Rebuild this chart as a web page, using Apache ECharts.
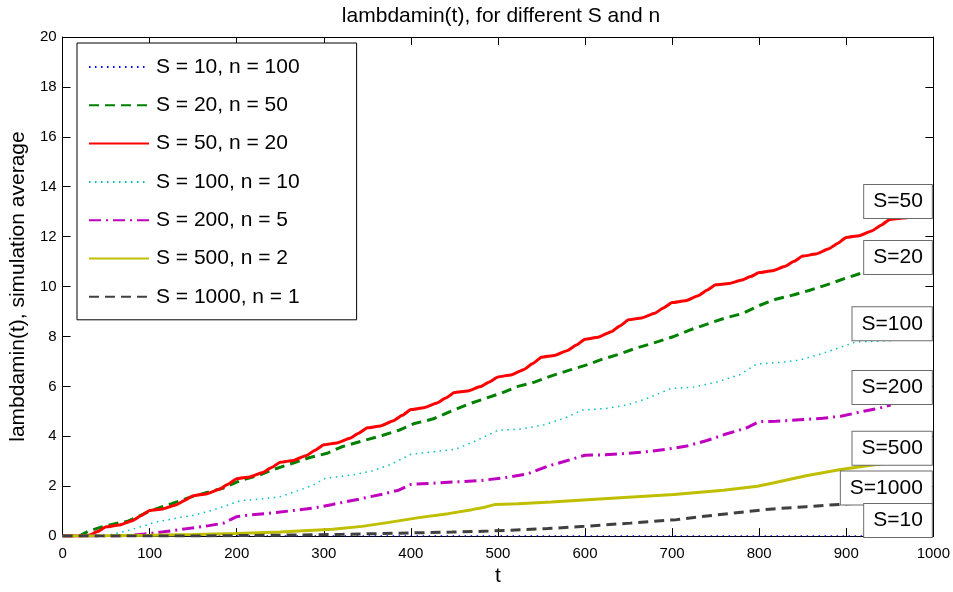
<!DOCTYPE html>
<html>
<head>
<meta charset="utf-8">
<script src="https://cdn.jsdelivr.net/npm/echarts@6/dist/echarts.min.js"></script>
<style>
html,body{margin:0;padding:0;background:#fff;}
#chart{width:953px;height:592px;}
</style>
</head>
<body>
<div id="chart"></div>
<script>
const xTicks = [0, 100, 200, 300, 400, 500, 600, 700, 800, 900, 1000];
const yTicks = [0, 2, 4, 6, 8, 10, 12, 14, 16, 18, 20];

const seriesNames = ['S = 10, n = 100', 'S = 20, n = 50', 'S = 50, n = 20', 'S = 100, n = 10', 'S = 200, n = 5', 'S = 500, n = 2', 'S = 1000, n = 1'];

const s10 = [[0,0],[200,0],[400,0],[600,0],[800,0],[960,0]];

const s20 = [[0,0],[20,0.02],[30,0.2],[50,0.42],[75,0.6],[100,1.0],[126,1.31],[145,1.54],[166,1.75],[185,1.93],[204,2.23],[225,2.43],[244,2.69],[265,2.93],[284,3.15],[304,3.32],[320,3.57],[344,3.81],[367,4.03],[386,4.24],[403,4.5],[426,4.7],[445,4.99],[466,5.29],[485,5.51],[504,5.73],[523,6.0],[542,6.17],[559,6.39],[582,6.65],[601,6.85],[620,7.09],[641,7.31],[660,7.55],[679,7.74],[702,8.0],[723,8.29],[743,8.53],[762,8.75],[781,8.92],[800,9.24],[819,9.49],[840,9.67],[859,9.86],[880,10.1],[899,10.33],[920,10.57],[955,10.95]];

const s50 = [[0,0],[25,0],[30,0.03],[40,0.18],[50,0.37],
[65,0.44],[80,0.62],[90,0.82],[100,1.03],
[115,1.09],[130,1.25],[140,1.43],[150,1.62],
[165,1.69],[180,1.88],[190,2.08],[200,2.30],
[215,2.37],[230,2.55],[240,2.75],[250,2.96],
[265,3.03],[280,3.23],[290,3.44],[300,3.66],
[315,3.73],[330,3.92],[340,4.12],[350,4.34],
[365,4.41],[380,4.62],[390,4.84],[400,5.07],
[415,5.14],[430,5.33],[440,5.53],[450,5.75],
[465,5.81],[480,5.99],[490,6.18],[500,6.38],
[515,6.46],[530,6.68],[540,6.92],[550,7.17],
[565,7.24],[580,7.44],[590,7.66],[600,7.89],
[615,7.97],[630,8.19],[640,8.42],[650,8.67],
[665,8.74],[680,8.93],[690,9.14],[700,9.36],
[715,9.43],[730,9.63],[740,9.85],[750,10.07],
[765,10.12],[780,10.26],[790,10.40],[800,10.56],
[815,10.63],[830,10.81],[840,11.01],[850,11.22],
[865,11.30],[880,11.51],[890,11.73],[900,11.97],
[915,12.04],[930,12.24],[940,12.46],[950,12.69],
[965,12.75],[978,12.80]];

const s100 = [[0,0],[40,0],[50,0.02],[75,0.22],[97,0.45],[105,0.55],[128,0.70],[150,0.83],[173,1.05],[188,1.22],[204,1.42],[226,1.48],[249,1.57],[272,1.84],[287,2.03],[302,2.32],[333,2.45],[356,2.62],[378,2.89],[400,3.28],[424,3.37],[451,3.48],[474,3.81],[500,4.24],[527,4.29],[553,4.46],[576,4.72],[597,5.05],[626,5.12],[648,5.25],[671,5.51],[698,5.91],[724,5.97],[751,6.17],[778,6.47],[797,6.89],[823,6.96],[846,7.05],[869,7.28],[892,7.55],[911,7.78],[938,7.81],[952,7.83]];

const s200 = [[0,0],[60,0],[80,0.03],[94,0.08],[116,0.17],[143,0.30],[168,0.42],[185,0.52],[200,0.78],[215,0.85],[236,0.91],[261,1.01],[291,1.14],[310,1.27],[340,1.48],[367,1.68],[386,1.84],[400,2.07],[420,2.11],[451,2.17],[481,2.23],[508,2.34],[534,2.49],[557,2.8],[575,2.98],[600,3.24],[618,3.25],[645,3.31],[667,3.37],[694,3.48],[717,3.61],[740,3.83],[762,4.09],[785,4.33],[800,4.59],[819,4.60],[846,4.66],[873,4.72],[895,4.81],[918,4.99],[937,5.12],[951,5.25]];

const s500 = [[0,0],[50,0.01],[100,0.03],[150,0.06],[200,0.1],[250,0.16],[310,0.27],[344,0.39],[375,0.55],[409,0.74],[443,0.9],[470,1.06],[485,1.16],[497,1.27],[523,1.3],[561,1.37],[626,1.51],[702,1.67],[759,1.84],[798,2.0],[816,2.13],[854,2.42],[892,2.66],[930,2.85],[956,2.96]];

const s1000 = [[0,0],[150,0],[200,0.02],[260,0.04],[322,0.07],[363,0.1],[405,0.13],[447,0.16],[489,0.2],[531,0.26],[557,0.3],[599,0.39],[652,0.52],[705,0.66],[751,0.85],[798,1.03],[816,1.09],[854,1.18],[892,1.27],[955,1.42]];

const boxLabels = ['S=50', 'S=20', 'S=100', 'S=200', 'S=500', 'S=1000', 'S=10'];
const boxLabelY = [13.41, 11.16, 8.51, 5.95, 3.52, 1.93, 0.63];
const boxLabelX = 1000;

const FONT = "'Liberation Sans', Arial, Helvetica, sans-serif";

const chart = echarts.init(document.getElementById('chart'), null, {renderer: 'canvas'});

function lineSeries(name, data, color, width, type, extra) {
  return Object.assign({
    name: name,
    type: 'line',
    data: data,
    symbol: 'none',
    showSymbol: false,
    animation: false,
    lineStyle: {color: color, width: width, type: type, cap: 'butt'},
    itemStyle: {color: color},
    z: 3
  }, extra || {});
}

const option = {
  animation: false,
  backgroundColor: '#fff',
  textStyle: {fontFamily: FONT},
  title: {
    text: 'lambdamin(t), for different S and n',
    left: 496, top: 1, textAlign: 'center',
    textStyle: {fontFamily: FONT, fontSize: 21, fontWeight: 'normal', color: '#000'}
  },
  grid: {left: 58, right: 18, top: 37, bottom: 47, containLabel: false},
  legend: {
    data: seriesNames,
    orient: 'vertical',
    left: 77, top: 43,
    padding: [12, 57, 11, 11],
    itemGap: 14.3,
    itemWidth: 60, itemHeight: 14,
    backgroundColor: '#fff',
    borderColor: '#000', borderWidth: 1,
    itemStyle: {opacity: 0},
    textStyle: {fontFamily: FONT, fontSize: 21, color: '#000', lineHeight: 24, padding: [0, 0, 0, 2]},
    selectedMode: false,
    z: 10
  },
  xAxis: [{
    type: 'value', min: 0, max: 1000, interval: 100,
    name: 't', nameLocation: 'middle', nameGap: 25,
    nameTextStyle: {fontFamily: FONT, fontSize: 21, color: '#000'},
    axisLine: {show: true, onZero: false, lineStyle: {color: '#000', width: 1}},
    axisTick: {show: true, inside: true, length: 8, lineStyle: {color: '#000'}},
    axisLabel: {fontFamily: FONT, fontSize: 15, color: '#000', margin: 10, formatter: v => String(v)},
    splitLine: {show: false}
  }, {
    type: 'value', min: 0, max: 1000, interval: 100, position: 'top',
    axisLine: {show: true, onZero: false, lineStyle: {color: '#000', width: 1}},
    axisTick: {show: true, inside: true, length: 8, lineStyle: {color: '#000'}},
    axisLabel: {show: false},
    splitLine: {show: false}
  }],
  yAxis: [{
    type: 'value', min: 0, max: 20, interval: 2,
    name: 'lambdamin(t), simulation average', nameLocation: 'middle', nameGap: 23,
    nameTextStyle: {fontFamily: FONT, fontSize: 21, color: '#000'},
    axisLine: {show: true, onZero: false, lineStyle: {color: '#000', width: 1}},
    axisTick: {show: true, inside: true, length: 8, lineStyle: {color: '#000'}},
    axisLabel: {fontFamily: FONT, fontSize: 15, color: '#000', margin: 6, formatter: v => String(v)},
    splitLine: {show: false}
  }, {
    type: 'value', min: 0, max: 20, interval: 2, position: 'right',
    axisLine: {show: true, onZero: false, lineStyle: {color: '#000', width: 1}},
    axisTick: {show: true, inside: true, length: 8, lineStyle: {color: '#000'}},
    axisLabel: {show: false},
    splitLine: {show: false}
  }],
  series: [
    lineSeries(seriesNames[0], s10, '#0000ff', 1.5, [1.5, 4.5]),
    lineSeries(seriesNames[1], s20, '#008000', 3, [10, 6]),
    lineSeries(seriesNames[2], s50, '#ff0000', 3, 'solid', {smooth: 0.15, smoothMonotone: 'x'}),
    lineSeries(seriesNames[3], s100, '#00bfbf', 1.5, [1.5, 4.5]),
    lineSeries(seriesNames[4], s200, '#bf00bf', 3, [12, 5, 2, 5]),
    lineSeries(seriesNames[5], s500, '#bfbf00', 3, 'solid'),
    lineSeries(seriesNames[6], s1000, '#404040', 3, [10, 6]),
    {
      name: 'labels',
      type: 'scatter',
      animation: false,
      symbol: 'rect',
      symbolSize: 1,
      itemStyle: {color: 'rgba(0,0,0,0)', opacity: 1},
      clip: false,
      z: 8,
      silent: true,
      data: boxLabels.map((n, i) => ({name: n, value: [boxLabelX, boxLabelY[i]]})),
      label: {
        show: true,
        position: 'left',
        distance: 1,
        formatter: p => p.name,
        fontFamily: FONT, fontSize: 21, color: '#000',
        backgroundColor: '#fff',
        borderColor: '#6b6b6b', borderWidth: 1,
        padding: [5, 9, 4, 9],
        lineHeight: 24,
        opacity: 1
      }
    }
  ]
};

chart.setOption(option);
</script>
</body>
</html>
